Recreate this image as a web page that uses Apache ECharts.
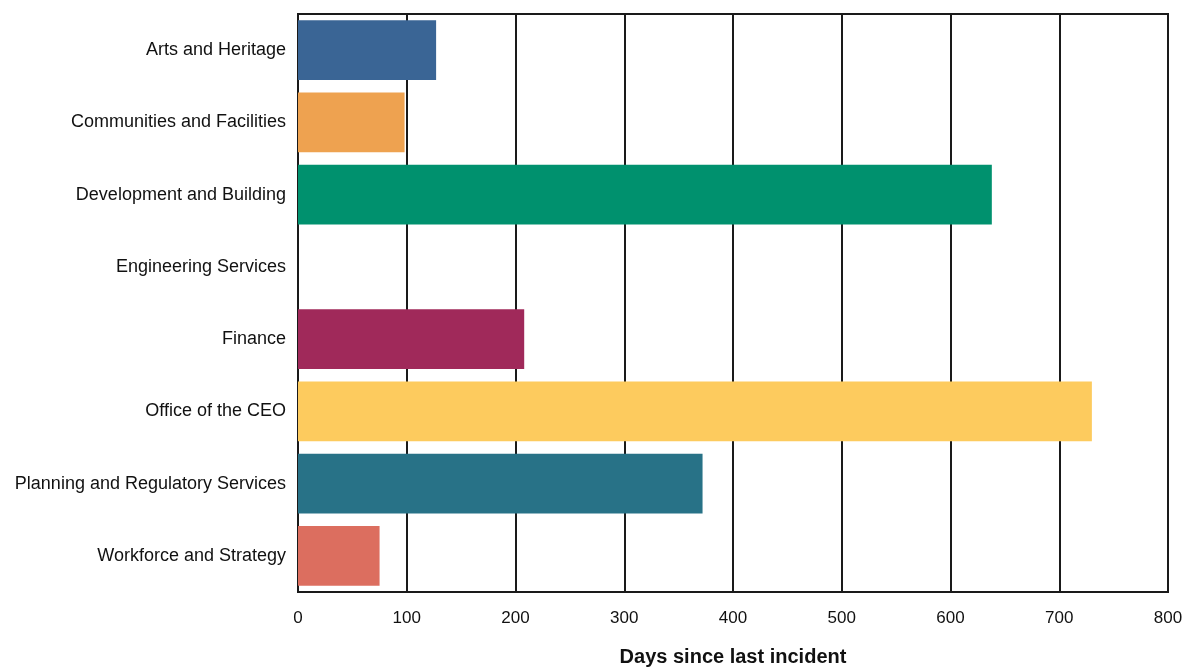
<!DOCTYPE html>
<html>
<head>
<meta charset="utf-8">
<script src="https://cdn.jsdelivr.net/npm/echarts@6/dist/echarts.min.js"></script>
<style>
  html, body { margin: 0; padding: 0; background: #fff; }
  #chart { width: 1184px; height: 667px; }
</style>
</head>
<body>
<div id="chart"></div>
<script>
// Departments and days since their last recorded incident
const departments = [
  'Arts and Heritage',
  'Communities and Facilities',
  'Development and Building',
  'Engineering Services',
  'Finance',
  'Office of the CEO',
  'Planning and Regulatory Services',
  'Workforce and Strategy'
];
const daysSince = [127, 98, 638, 0, 208, 730, 372, 75];
const barColors = ['#3a6595', '#eea250', '#00916e', '#7f7f7f', '#a0295a', '#fdcb5e', '#287287', '#dc6e5f'];
const xTicks = { min: 0, max: 800, interval: 100 };
const xTitle = 'Days since last incident';

const font = '"Liberation Sans", Arial, sans-serif';

const chart = echarts.init(document.getElementById('chart'), null, { renderer: 'canvas' });
chart.setOption({
  animation: false,
  grid: {
    left: 298, right: 16, top: 14, bottom: 75,
    containLabel: false,
    outerBoundsMode: 'none',
    show: true, borderColor: '#1a1a1a', borderWidth: 2, backgroundColor: 'transparent'
  },
  xAxis: {
    type: 'value',
    min: xTicks.min, max: xTicks.max, interval: xTicks.interval,
    name: xTitle,
    nameLocation: 'middle',
    nameGap: 55,
    nameTextStyle: { fontFamily: font, fontSize: 20, fontWeight: 'bold', color: '#111' },
    axisLine: { show: true, lineStyle: { color: '#1a1a1a', width: 2 } },
    axisTick: { show: false },
    axisLabel: { fontFamily: font, fontSize: 17, color: '#111', margin: 18 },
    splitLine: { show: true, lineStyle: { color: '#1a1a1a', width: 2 } }
  },
  yAxis: {
    type: 'category',
    data: departments,
    inverse: true,
    axisLine: { show: true, lineStyle: { color: '#1a1a1a', width: 2 } },
    axisTick: { show: false },
    axisLabel: { fontFamily: font, fontSize: 18, color: '#111', margin: 12 },
    splitLine: { show: false }
  },
  series: [{
    type: 'bar',
    data: daysSince.map((v, i) => ({ value: v, itemStyle: { color: barColors[i] } })),
    barCategoryGap: '17%'
  }]
});
</script>
</body>
</html>
